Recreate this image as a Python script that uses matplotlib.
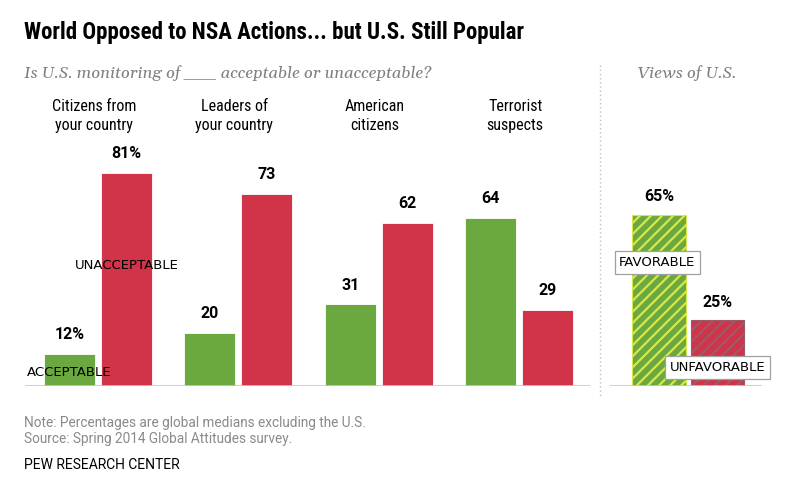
import matplotlib
matplotlib.use("Agg")
import matplotlib.pyplot as plt
import numpy as np

# ---- data ----
categories = ["Citizens from\nyour country", "Leaders of\nyour country",
              "American\ncitizens", "Terrorist\nsuspects"]
acceptable = [12, 20, 31, 64]
unacceptable = [81, 73, 62, 29]
acc_labels = ["12%", "20", "31", "64"]
unacc_labels = ["81%", "73", "62", "29"]
views = ["FAVORABLE", "UNFAVORABLE"]
views_values = [65, 25]
views_labels = ["65%", "25%"]

title = "World Opposed to NSA Actions... but U.S. Still Popular"
subtitle_left = "Is U.S. monitoring of ___ acceptable or unacceptable?"
subtitle_right = "Views of U.S."
note1 = "Note: Percentages are global medians excluding the U.S."
note2 = "Source: Spring 2014 Global Attitudes survey."
credit = "PEW RESEARCH CENTER"

GREEN = "#6ba83f"
RED = "#d13349"
DJ = ["DejaVu Sans"]
SERIF = ["Gelasio", "Liberation Serif", "DejaVu Serif"]
SANS = ["Roboto", "DejaVu Sans"]
COND = ["Roboto Condensed", "Roboto", "DejaVu Sans"]

W, H = 800, 495
fig = plt.figure(figsize=(W / 100, H / 100), dpi=100)
plt.rcParams["hatch.linewidth"] = 1.6

def fx(px):
    return px / W

def fy(py):
    return 1 - py / H

base_px = 386
top_px = 123
ax_h = (base_px - top_px) / H

axL = fig.add_axes([fx(25), fy(base_px), fx(590) - fx(25), ax_h])
x = np.arange(len(categories))
bw = 0.363
off = 0.203
axL.bar(x - off, acceptable, bw, color=GREEN, edgecolor="white", linewidth=0.6)
axL.bar(x + off, unacceptable, bw, color=RED, edgecolor="white", linewidth=0.6)
axL.set_xlim(-0.52, 3.504)
axL.set_ylim(0, 100)
axL.axis("off")
axL.axhline(0, color="#c8c8c8", lw=1.2, zorder=3)
for xi, v, lab in zip(x - off, acceptable, acc_labels):
    axL.annotate(lab, (xi, v), xytext=(0, 14), textcoords="offset points",
                 ha="center", va="center", fontsize=11.5, fontweight="bold",
                 family=SANS)
for xi, v, lab in zip(x + off, unacceptable, unacc_labels):
    axL.annotate(lab, (xi, v), xytext=(0, 14), textcoords="offset points",
                 ha="center", va="center", fontsize=11.5, fontweight="bold",
                 family=SANS)
axL.text(x[0] + off, 46, "UNACCEPTABLE", ha="center", va="center",
         fontsize=9.5, family=DJ, color="black", zorder=5)
axL.text(x[0] - off, 5, "ACCEPTABLE", ha="center", va="center",
         fontsize=9.5, family=DJ, color="black", zorder=5)

for xi, cat in zip(x, categories):
    xd = axL.transData.transform((xi, 0))[0]
    xf = fig.transFigure.inverted().transform((xd - 4, 0))[0]
    fig.text(xf, fy(116), cat, ha="center", va="center", fontsize=11.5,
             family=COND, linespacing=1.4)

axR = fig.add_axes([fx(610), fy(base_px), fx(762) - fx(610), ax_h])
xr = np.arange(len(views))
axR.bar(xr, views_values, 0.92, color=[GREEN, RED],
        edgecolor=["#d6e84a", "#9c5a68"], linewidth=0.8, hatch="///")
axR.set_xlim(-0.84, 1.76)
axR.set_ylim(0, 100)
axR.axis("off")
axR.axhline(0, color="#c8c8c8", lw=1.2, zorder=3)
for xi, v, lab in zip(xr, views_values, views_labels):
    axR.annotate(lab, (xi, v), xytext=(0, 13), textcoords="offset points",
                 ha="center", va="center", fontsize=11.5, fontweight="bold",
                 family=SANS)
box = dict(boxstyle="square,pad=0.35", fc="white", ec="#a0a0a0", lw=0.9)
axR.text(xr[0] - 0.03, 47, views[0], ha="center", va="center", fontsize=9.5,
         family=DJ, bbox=box, zorder=5)
axR.text(xr[1], 7, views[1], ha="center", va="center", fontsize=9.5,
         family=DJ, bbox=box, zorder=5)

fig.add_artist(plt.Line2D([fx(600), fx(600)], [fy(65), fy(396)],
                          transform=fig.transFigure, color="#bdbdbd",
                          lw=1, linestyle=(0, (1, 2))))

fig.text(fx(24), fy(33), title, ha="left", va="center", fontsize=16.5,
         fontweight="bold", family=COND)
fig.text(fx(24), fy(73), subtitle_left, ha="left", va="center", fontsize=12,
         style="italic", family=SERIF, color="#808080")
fig.text(fx(638), fy(73), subtitle_right, ha="left", va="center", fontsize=12,
         style="italic", family=SERIF, color="#808080")
fig.text(fx(24), fy(423), note1, ha="left", va="center", fontsize=9.8,
         family=SANS, color="#8a8a8a")
fig.text(fx(24), fy(439), note2, ha="left", va="center", fontsize=9.8,
         family=SANS, color="#8a8a8a")
fig.text(fx(24), fy(465), credit, ha="left", va="center", fontsize=10,
         family=SANS, color="black")

fig.savefig("out.png", dpi=100)
